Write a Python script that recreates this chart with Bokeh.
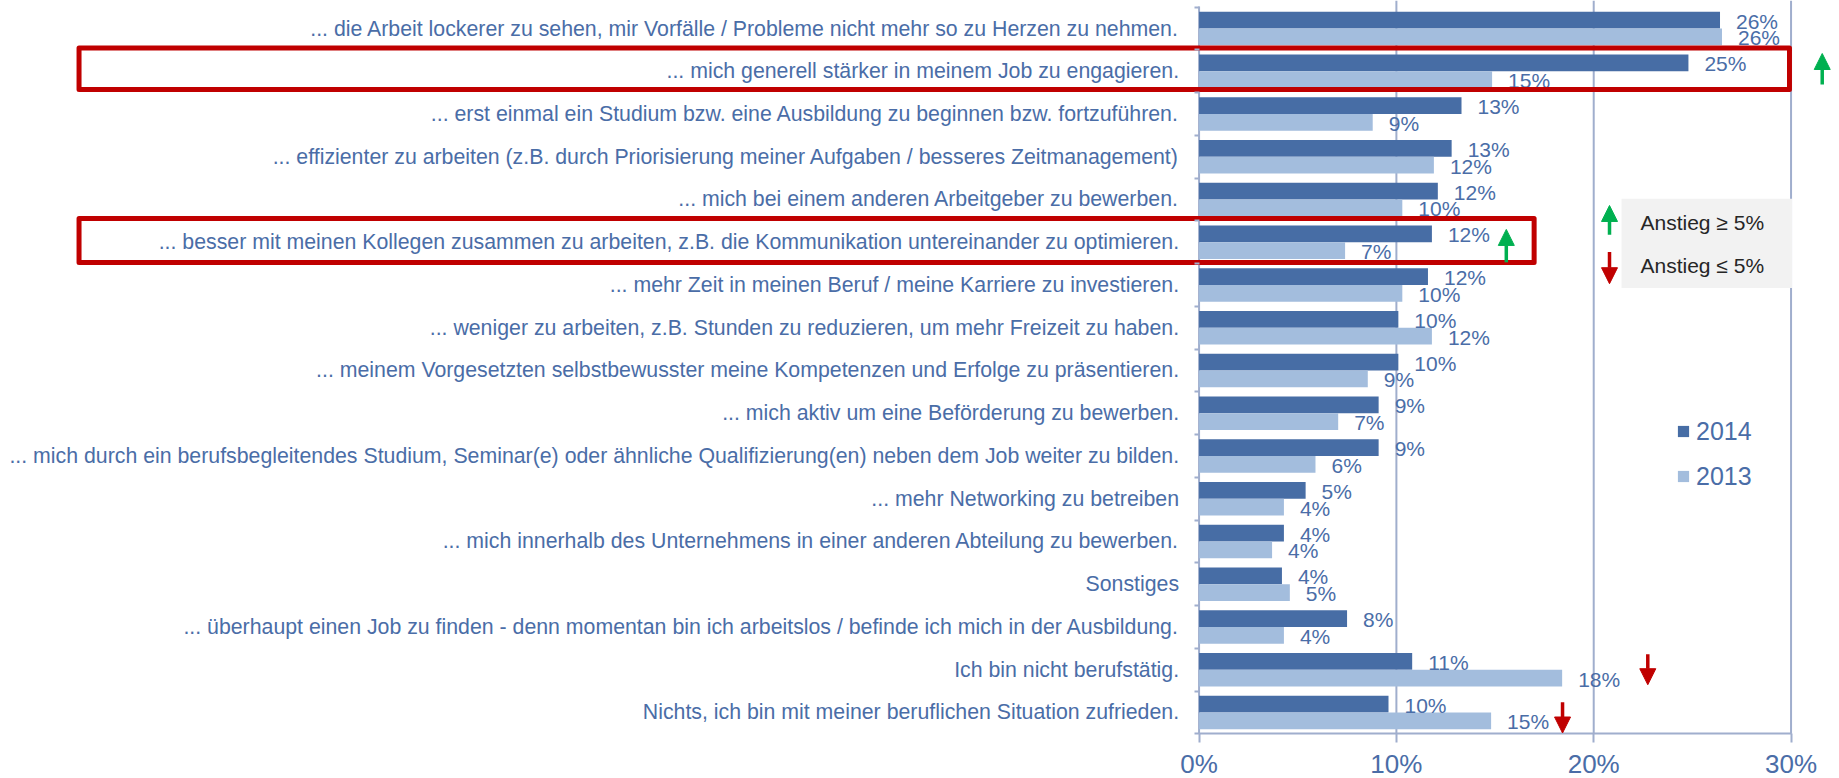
from bokeh.plotting import figure
from bokeh.models import (Range1d, LinearAxis, FixedTicker, PrintfTickFormatter, ColumnDataSource,
                          Arrow, NormalHead, Legend, LegendItem)
from bokeh.embed import file_html
from bokeh.resources import INLINE
from bokeh.core.properties import value
import numpy as np

# ---------------- data ----------------
categories = [
    "... die Arbeit lockerer zu sehen, mir Vorfälle / Probleme nicht mehr so zu Herzen zu nehmen.",
    "... mich generell stärker in meinem Job zu engagieren.",
    "... erst einmal ein Studium bzw. eine Ausbildung zu beginnen bzw. fortzuführen.",
    "... effizienter zu arbeiten (z.B. durch Priorisierung meiner Aufgaben / besseres Zeitmanagement)",
    "... mich bei einem anderen Arbeitgeber zu bewerben.",
    "... besser mit meinen Kollegen zusammen zu arbeiten, z.B. die Kommunikation untereinander zu optimieren.",
    "... mehr Zeit in meinen Beruf / meine Karriere zu investieren.",
    "... weniger zu arbeiten, z.B. Stunden zu reduzieren, um mehr Freizeit zu haben.",
    "... meinem Vorgesetzten selbstbewusster meine Kompetenzen und Erfolge zu präsentieren.",
    "... mich aktiv um eine Beförderung zu bewerben.",
    "... mich durch ein berufsbegleitendes Studium, Seminar(e) oder ähnliche Qualifizierung(en) neben dem Job weiter zu bilden.",
    "... mehr Networking zu betreiben",
    "... mich innerhalb des Unternehmens in einer anderen Abteilung zu bewerben.",
    "Sonstiges",
    "... überhaupt einen Job zu finden - denn momentan bin ich arbeitslos / befinde ich mich in der Ausbildung.",
    "Ich bin nicht berufstätig.",
    "Nichts, ich bin mit meiner beruflichen Situation zufrieden.",
]
share_2014 = [26.4, 24.8, 13.3, 12.8, 12.1, 11.8, 11.6, 10.1, 10.1, 9.1, 9.1, 5.4, 4.3, 4.2, 7.5, 10.8, 9.6]
share_2013 = [26.5, 14.85, 8.8, 11.9, 10.3, 7.4, 10.3, 11.8, 8.55, 7.05, 5.9, 4.3, 3.7, 4.6, 4.3, 18.4, 14.8]
series_names = ["2014", "2013"]
x_ticks = [0, 10, 20, 30]
note_texts = ["Anstieg ≥ 5%", "Anstieg ≤ 5%"]

# ---------------- style ----------------
FONT = "Liberation Sans"
TXT = "#4A6DA7"
DARK = "#476DA5"
LIGHT = "#A3BDDD"
GRID = "#A0AECD"
RED = "#C00000"
GREEN = "#00B050"

n = len(categories)
rows = np.arange(n)
src = ColumnDataSource(dict(
    y14=rows - 0.195, y13=rows + 0.195,
    v14=share_2014, v13=share_2013,
    l14=[f"{v:.0f}%" for v in share_2014],
    l13=[f"{v:.0f}%" for v in share_2013],
))

Y_TOP, Y_AXIS = -0.655, n - 0.5
p = figure(width=1831, height=778, x_range=Range1d(-60.74, 32.05), y_range=Range1d(17.544, Y_TOP),
           output_backend="svg", toolbar_location=None, y_axis_location=None,
           min_border_left=0, min_border_right=0, min_border_top=0, min_border_bottom=0)
p.outline_line_color = None
p.background_fill_color = "white"
p.grid.visible = False

# vertical gridlines (stop at the x axis) and the value axis line at 0
p.segment(x0=x_ticks[1:], x1=x_ticks[1:], y0=[Y_TOP] * 3, y1=[Y_AXIS] * 3, line_color=GRID, line_width=2)
p.segment(x0=x_ticks[:1], x1=x_ticks[:1], y0=[-0.515], y1=[Y_AXIS], line_color=GRID, line_width=2)

# x axis fixed at the bottom of the rows
xa = p.xaxis[0]
xa.fixed_location = Y_AXIS
xa.ticker = FixedTicker(ticks=x_ticks)
xa.formatter = PrintfTickFormatter(format="%d%%")
xa.bounds = (0, 30)
xa.axis_line_color = GRID
xa.axis_line_width = 2
xa.major_tick_out = 9
xa.major_tick_in = 0
xa.major_tick_line_color = GRID
xa.major_tick_line_width = 2
xa.minor_tick_line_color = None
xa.major_label_text_font = FONT
xa.major_label_text_font_size = "26px"
xa.major_label_text_color = TXT
xa.major_label_standoff = 6

# y axis (category labels) fixed at x = 0
ya = LinearAxis(fixed_location=0,
                ticker=FixedTicker(ticks=list(range(n)), minor_ticks=[i - 0.5 for i in range(n + 1)]),
                major_label_overrides={i: c for i, c in enumerate(categories)})
ya.axis_line_color = None
ya.major_tick_out = 0
ya.major_tick_in = 0
ya.major_tick_line_color = None
ya.minor_tick_out = 5
ya.minor_tick_in = 0
ya.minor_tick_line_color = GRID
ya.minor_tick_line_width = 2
ya.major_label_standoff = 15
ya.major_label_text_font = FONT
ya.major_label_text_font_size = "21.3px"
ya.major_label_text_color = TXT
p.add_layout(ya, "left")

# bars
r14 = p.hbar(y="y14", right="v14", left=0, height=0.39, fill_color=DARK, line_color=None, source=src)
r13 = p.hbar(y="y13", right="v13", left=0, height=0.39, fill_color=LIGHT, line_color=None, source=src)

# value labels
for xcol, ycol, lcol in (("v14", "y14", "l14"), ("v13", "y13", "l13")):
    p.text(x=xcol, y=ycol, text=lcol, source=src,
           x_offset=16, y_offset=1, text_align="left", text_baseline="middle",
           text_font=value(FONT), text_font_size="21px", text_color=TXT)

# highlight boxes
p.quad(left=[-56.76, -56.76], right=[29.92, 16.98], top=[0.456, 4.444], bottom=[1.427, 5.474],
       fill_color=None, line_color=RED, line_width=5, line_join="round")

# note box (change legend)
p.quad(left=[21.41], right=[30.05], top=[3.98], bottom=[6.07], fill_color="#F2F2F2", line_color=None)
p.text(x=[22.37, 22.37], y=[4.53, 5.54], text=note_texts, text_align="left", text_baseline="middle",
       text_font=value(FONT), text_font_size="21px", text_color="#262626")

# arrows
arrows = [
    (31.58, 1.31, 0.585, GREEN),
    (15.57, 5.47, 4.70, GREEN),
    (20.8, 4.825, 4.14, GREEN),
    (20.8, 5.23, 5.97, RED),
    (22.74, 14.64, 15.35, RED),
    (18.42, 15.76, 16.48, RED),
]
for x, ys, ye, c in arrows:
    p.add_layout(Arrow(x_start=x, y_start=ys, x_end=x, y_end=ye, line_color=c, line_width=3.5,
                       end=NormalHead(size=16, fill_color=c, line_color=c, line_width=1)))

# series legend
legend = Legend(items=[LegendItem(label=series_names[0], renderers=[r14]),
                       LegendItem(label=series_names[1], renderers=[r13])],
                location=(1676, 287), orientation="vertical",
                glyph_width=14, glyph_height=14, label_height=30, spacing=15,
                label_standoff=6, padding=0, margin=0,
                label_text_font=FONT, label_text_font_size="25px", label_text_color=TXT,
                background_fill_alpha=0, border_line_color=None)
p.add_layout(legend)

open("out.html", "w").write(file_html(p, INLINE))
